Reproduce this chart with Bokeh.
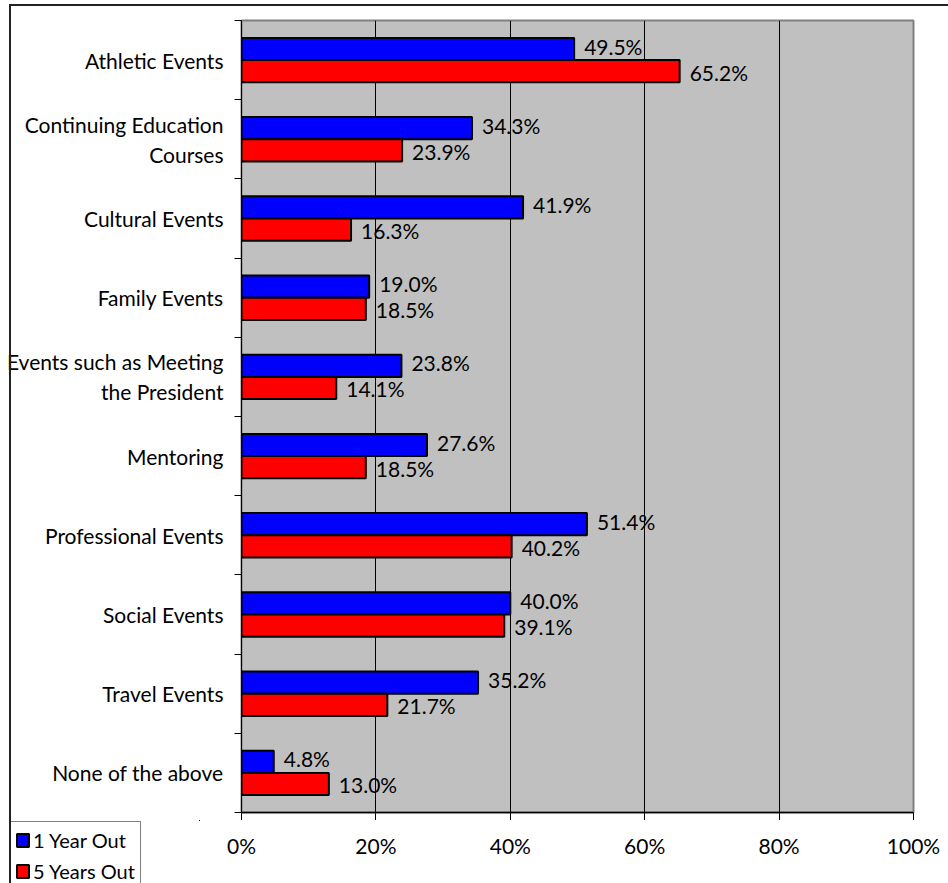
from bokeh.plotting import figure
from bokeh.layouts import column, row
from bokeh.models import (Range1d, FixedTicker, PrintfTickFormatter, ColumnDataSource,
                          LabelSet, Legend, LegendItem, InlineStyleSheet)
from bokeh.core.properties import value
from bokeh.embed import file_html
from bokeh.resources import INLINE

# ---- data ----
categories = ["Athletic Events", "Continuing Education\nCourses", "Cultural Events",
              "Family Events", "Events such as Meeting\nthe President", "Mentoring",
              "Professional Events", "Social Events", "Travel Events", "None of the above"]
one_year = [49.5, 34.3, 41.9, 19.0, 23.8, 27.6, 51.4, 40.0, 35.2, 4.8]
five_years = [65.2, 23.9, 16.3, 18.5, 14.1, 18.5, 40.2, 39.1, 21.7, 13.0]
x_ticks = [0, 20, 40, 60, 80, 100]
series_names = ["1 Year Out", "5 Years Out"]
series_colors = ["#0000FF", "#FF0000"]

FONT = "Lato"
FS = "21px"

n = len(categories)
W = 948
ML, MR = 241, 35
H_A, MT_A, MB_A = 820, 20, 8
H_B = 63
W_LEG = 200

xr = Range1d(0, 100)

# ---------- main chart ----------
p = figure(width=W, height=H_A, output_backend="svg", toolbar_location=None,
           x_range=xr, y_range=Range1d(0, n),
           min_border_left=ML, min_border_right=MR, min_border_top=MT_A, min_border_bottom=MB_A,
           background_fill_color="#C0C0C0", border_fill_color="white")
p.frame_align = False
p.outline_line_color = "#808080"
p.outline_line_width = 2

centers = [n - i - 0.5 for i in range(n)]
bar_h = 0.28
y1 = [c + 0.14 for c in centers]
y5 = [c - 0.14 for c in centers]
src = ColumnDataSource(dict(v1=one_year, v5=five_years, y1=y1, y5=y5,
                            t1=["%.1f%%" % v for v in one_year],
                            t5=["%.1f%%" % v for v in five_years]))
bar_style = dict(line_color="black", line_width=2)
r1 = p.hbar(y="y1", right="v1", left=0, height=bar_h, source=src,
            fill_color=series_colors[0], **bar_style)
r5 = p.hbar(y="y5", right="v5", left=0, height=bar_h, source=src,
            fill_color=series_colors[1], **bar_style)

p.add_layout(LabelSet(x="v1", y="y1", text="t1", source=src, x_offset=10, y_offset=3,
                      text_font=value(FONT), text_font_size=value(FS), text_baseline="middle",
                      text_color="black"))
p.add_layout(LabelSet(x="v5", y="y5", text="t5", source=src, x_offset=10, y_offset=-1,
                      text_font=value(FONT), text_font_size=value(FS), text_baseline="middle",
                      text_color="black"))

# x axis of main chart: line and ticks only (labels live in the strip below)
p.xaxis.ticker = FixedTicker(ticks=x_ticks)
p.xaxis.major_label_overrides = {t: "" for t in x_ticks}
p.xaxis.major_label_standoff = 0
p.xaxis.major_tick_in = 0
p.xaxis.major_tick_out = 8
p.xaxis.minor_tick_line_color = None
p.xaxis.axis_line_color = "black"
p.xaxis.axis_line_width = 1.5
p.xaxis.major_tick_line_color = "black"

p.yaxis.ticker = FixedTicker(ticks=centers, minor_ticks=list(range(n + 1)))
p.yaxis.major_label_overrides = {c: cat for c, cat in zip(centers, categories)}
p.yaxis.major_label_text_font = FONT
p.yaxis.major_label_text_font_size = FS
p.yaxis.major_label_text_color = "black"
p.yaxis.major_label_text_line_height = 1.2
p.yaxis.major_label_standoff = 11
p.yaxis.major_tick_in = 0
p.yaxis.major_tick_out = 0
p.yaxis.minor_tick_in = 0
p.yaxis.minor_tick_out = 7
p.yaxis.minor_tick_line_color = "black"
p.yaxis.axis_line_color = "black"

p.xgrid.grid_line_color = "black"
p.xgrid.grid_line_width = 1
p.ygrid.grid_line_color = None

# ---------- bottom-left: legend ----------
# the series are drawn again here only as legend proxies; these ranges keep them out of view
lg = figure(width=W_LEG, height=H_B, output_backend="svg", toolbar_location=None,
            x_axis_type=None, y_axis_type=None, x_range=Range1d(-2, -1), y_range=Range1d(-2, -1),
            min_border_left=8, min_border_top=0, min_border_right=0, min_border_bottom=0,
            background_fill_color="white", border_fill_color="white")
lg.frame_align = False
lg.outline_line_color = None
lg.grid.visible = False
l1 = lg.hbar(y="y1", right="v1", left=0, height=bar_h, source=src,
             fill_color=series_colors[0], **bar_style)
l5 = lg.hbar(y="y5", right="v5", left=0, height=bar_h, source=src,
             fill_color=series_colors[1], **bar_style)
legend = Legend(items=[LegendItem(label=series_names[0], renderers=[l1]),
                       LegendItem(label=series_names[1], renderers=[l5])],
                location="top_left", orientation="vertical",
                label_text_font=FONT, label_text_font_size="20px", label_text_color="black",
                glyph_width=15, glyph_height=16, label_height=25, spacing=6,
                padding=5, margin=1, label_standoff=3,
                border_line_color="black", border_line_width=1,
                background_fill_color="white", background_fill_alpha=1)
lg.add_layout(legend)

# ---------- bottom-right: x tick labels ----------
q = figure(width=W - W_LEG, height=H_B, output_backend="svg", toolbar_location=None,
           x_range=xr, y_range=Range1d(0, 1),
           min_border_left=ML - W_LEG, min_border_right=MR, min_border_top=0,
           min_border_bottom=H_B - 1,
           background_fill_color="white", border_fill_color="white")
q.frame_align = False
q.outline_line_color = None
q.yaxis.visible = False
q.grid.visible = False
q.xaxis.ticker = FixedTicker(ticks=x_ticks)
q.xaxis.formatter = PrintfTickFormatter(format="%d%%")
q.xaxis.major_label_text_font = FONT
q.xaxis.major_label_text_font_size = FS
q.xaxis.major_label_text_color = "black"
q.xaxis.axis_line_color = None
q.xaxis.major_tick_line_color = None
q.xaxis.minor_tick_line_color = None
q.xaxis.major_tick_in = 0
q.xaxis.major_tick_out = 0
q.xaxis.major_label_standoff = 11

frame_css = InlineStyleSheet(css="""
:host { position: relative; }
:host::after { content: ''; position: absolute; left: 9px; top: 4px; right: 0; bottom: 0;
  border-left: 2px solid #222; border-top: 2px solid #222; pointer-events: none; z-index: 10; }
""")
layout = column(p, row(lg, q, spacing=0), spacing=0, stylesheets=[frame_css])

open("out.html", "w").write(file_html(layout, INLINE))
